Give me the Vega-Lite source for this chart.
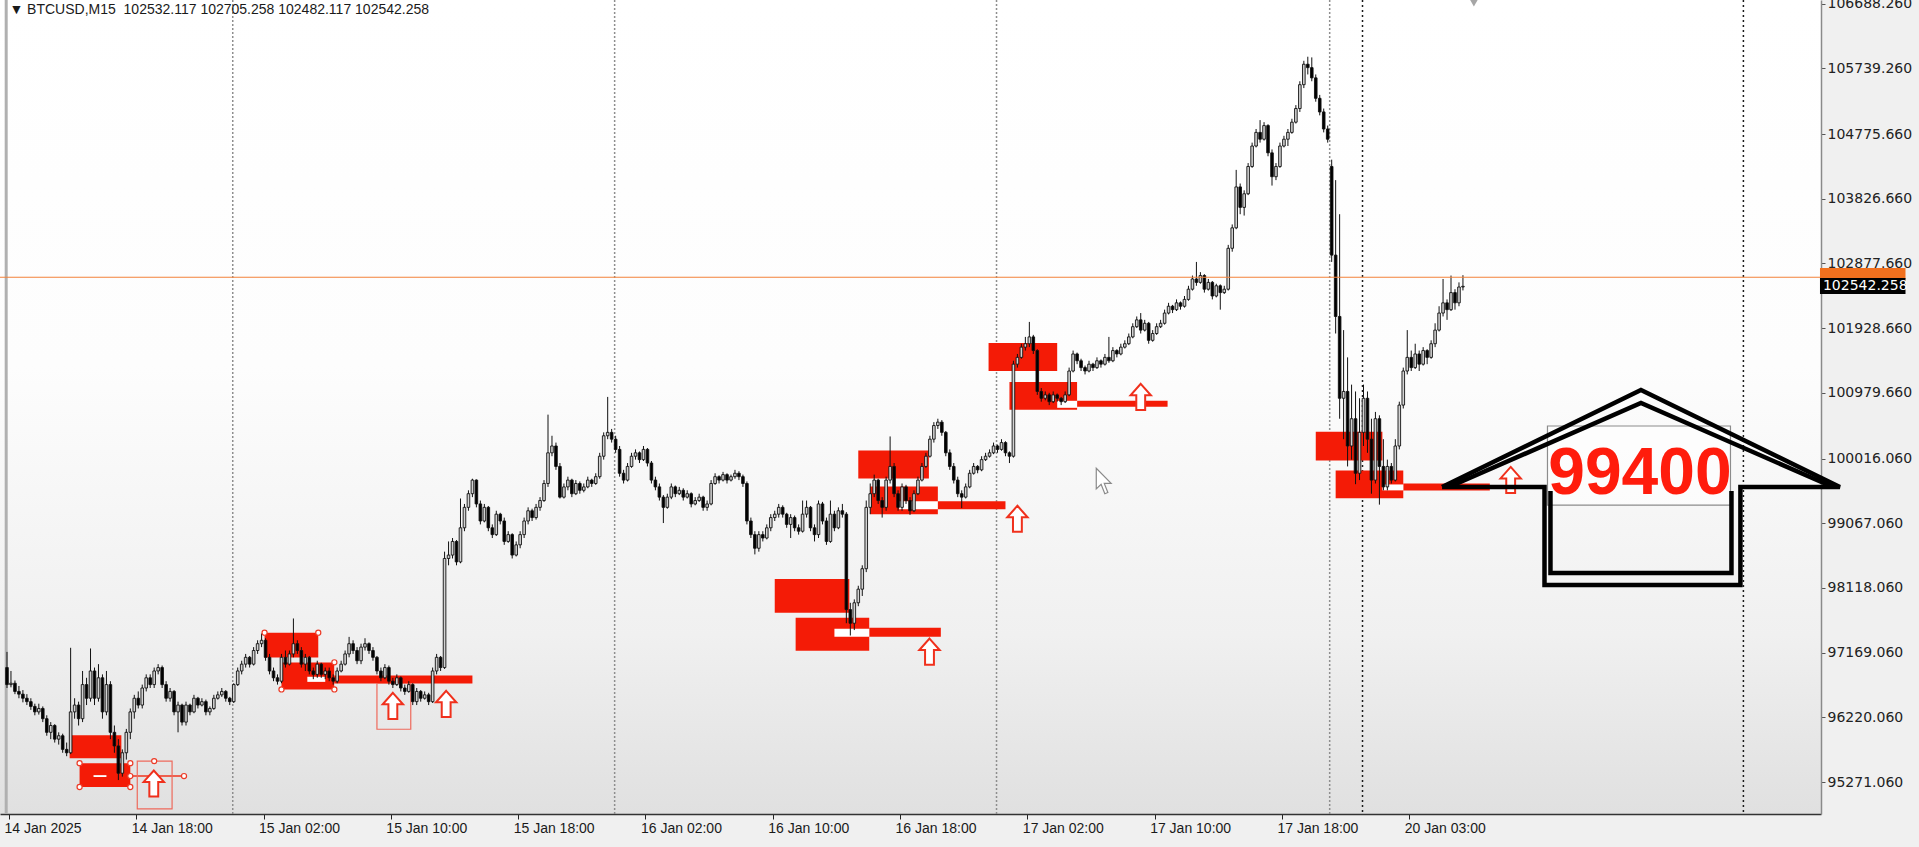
{
"$schema": "https://vega.github.io/schema/vega-lite/v6.json",
"width": 1821,
"height": 814,
"autosize": {"type": "none"},
"padding": {"left": 0, "top": 0, "right": 98, "bottom": 33},
"background": "#f0f0f0",
"config": {"view": {"stroke": null, "fill": {"gradient": "linear", "x1": 0, "y1": 0, "x2": 0, "y2": 1, "stops": [{"offset": 0, "color": "#ffffff"}, {"offset": 0.45, "color": "#fdfdfd"}, {"offset": 0.78, "color": "#f0f0f0"}, {"offset": 1, "color": "#e0e0e0"}]}}, "axis": {"grid": false, "title": null}},
"datasets": {
"candles": [
{"i":0,"o":96950,"h":97180,"l":96650,"c":96700},
{"i":1,"o":96700,"h":96900,"l":96660,"c":96720},
{"i":2,"o":96720,"h":96760,"l":96560,"c":96600},
{"i":3,"o":96600,"h":96680,"l":96500,"c":96560},
{"i":4,"o":96560,"h":96620,"l":96440,"c":96500},
{"i":5,"o":96500,"h":96560,"l":96400,"c":96450},
{"i":6,"o":96450,"h":96500,"l":96330,"c":96380},
{"i":7,"o":96380,"h":96420,"l":96250,"c":96300},
{"i":8,"o":96300,"h":96420,"l":96260,"c":96350},
{"i":9,"o":96350,"h":96380,"l":96150,"c":96200},
{"i":10,"o":96200,"h":96250,"l":95950,"c":96000},
{"i":11,"o":96000,"h":96150,"l":95900,"c":96100},
{"i":12,"o":96100,"h":96120,"l":95850,"c":95900},
{"i":13,"o":95900,"h":96000,"l":95820,"c":95950},
{"i":14,"o":95950,"h":95980,"l":95700,"c":95750},
{"i":15,"o":95750,"h":95850,"l":95650,"c":95700},
{"i":16,"o":95700,"h":97240,"l":95680,"c":96300},
{"i":17,"o":96300,"h":96500,"l":96200,"c":96400},
{"i":18,"o":96400,"h":96450,"l":96100,"c":96200},
{"i":19,"o":96200,"h":96900,"l":96150,"c":96700},
{"i":20,"o":96700,"h":96800,"l":96400,"c":96500},
{"i":21,"o":96500,"h":97230,"l":96450,"c":96900},
{"i":22,"o":96900,"h":96950,"l":96400,"c":96500},
{"i":23,"o":96500,"h":97000,"l":96450,"c":96800},
{"i":24,"o":96800,"h":96850,"l":96200,"c":96300},
{"i":25,"o":96300,"h":96900,"l":96250,"c":96700},
{"i":26,"o":96700,"h":96750,"l":95900,"c":96000},
{"i":27,"o":96000,"h":96100,"l":95700,"c":95800},
{"i":28,"o":95800,"h":95900,"l":95300,"c":95400},
{"i":29,"o":95400,"h":95750,"l":95350,"c":95700},
{"i":30,"o":95700,"h":96050,"l":95600,"c":96000},
{"i":31,"o":96000,"h":96350,"l":95900,"c":96300},
{"i":32,"o":96300,"h":96550,"l":96200,"c":96500},
{"i":33,"o":96500,"h":96600,"l":96350,"c":96400},
{"i":34,"o":96400,"h":96700,"l":96350,"c":96650},
{"i":35,"o":96650,"h":96850,"l":96600,"c":96800},
{"i":36,"o":96800,"h":96850,"l":96650,"c":96700},
{"i":37,"o":96700,"h":96950,"l":96650,"c":96900},
{"i":38,"o":96900,"h":97000,"l":96850,"c":96950},
{"i":39,"o":96950,"h":96980,"l":96650,"c":96700},
{"i":40,"o":96700,"h":96750,"l":96450,"c":96500},
{"i":41,"o":96500,"h":96650,"l":96450,"c":96600},
{"i":42,"o":96600,"h":96620,"l":96250,"c":96300},
{"i":43,"o":96300,"h":96450,"l":96000,"c":96400},
{"i":44,"o":96400,"h":96420,"l":96100,"c":96150},
{"i":45,"o":96150,"h":96450,"l":96100,"c":96400},
{"i":46,"o":96400,"h":96420,"l":96250,"c":96300},
{"i":47,"o":96300,"h":96550,"l":96280,"c":96500},
{"i":48,"o":96500,"h":96520,"l":96350,"c":96400},
{"i":49,"o":96400,"h":96500,"l":96380,"c":96450},
{"i":50,"o":96450,"h":96480,"l":96250,"c":96300},
{"i":51,"o":96300,"h":96380,"l":96250,"c":96350},
{"i":52,"o":96350,"h":96550,"l":96330,"c":96500},
{"i":53,"o":96500,"h":96600,"l":96480,"c":96550},
{"i":54,"o":96550,"h":96650,"l":96520,"c":96600},
{"i":55,"o":96600,"h":96620,"l":96450,"c":96500},
{"i":56,"o":96500,"h":96520,"l":96400,"c":96450},
{"i":57,"o":96450,"h":96720,"l":96430,"c":96700},
{"i":58,"o":96700,"h":96950,"l":96680,"c":96900},
{"i":59,"o":96900,"h":97050,"l":96850,"c":97000},
{"i":60,"o":97000,"h":97150,"l":96950,"c":97100},
{"i":61,"o":97100,"h":97120,"l":96950,"c":97000},
{"i":62,"o":97000,"h":97250,"l":96980,"c":97200},
{"i":63,"o":97200,"h":97350,"l":97150,"c":97300},
{"i":64,"o":97300,"h":97450,"l":97250,"c":97350},
{"i":65,"o":97350,"h":97380,"l":97050,"c":97100},
{"i":66,"o":97100,"h":97150,"l":96850,"c":96900},
{"i":67,"o":96900,"h":96950,"l":96750,"c":96800},
{"i":68,"o":96800,"h":96850,"l":96700,"c":96750},
{"i":69,"o":96750,"h":97150,"l":96720,"c":97100},
{"i":70,"o":97100,"h":97200,"l":96950,"c":97000},
{"i":71,"o":97000,"h":97200,"l":96980,"c":97150},
{"i":72,"o":97150,"h":97670,"l":97100,"c":97300},
{"i":73,"o":97300,"h":97350,"l":97150,"c":97200},
{"i":74,"o":97200,"h":97250,"l":96950,"c":97000},
{"i":75,"o":97000,"h":97150,"l":96900,"c":97100},
{"i":76,"o":97100,"h":97120,"l":96850,"c":96900},
{"i":77,"o":96900,"h":96950,"l":96780,"c":96850},
{"i":78,"o":96850,"h":97050,"l":96800,"c":97000},
{"i":79,"o":97000,"h":97020,"l":96800,"c":96850},
{"i":80,"o":96850,"h":96950,"l":96780,"c":96900},
{"i":81,"o":96900,"h":96950,"l":96750,"c":96800},
{"i":82,"o":96800,"h":96850,"l":96700,"c":96750},
{"i":83,"o":96750,"h":96950,"l":96720,"c":96900},
{"i":84,"o":96900,"h":97050,"l":96880,"c":97000},
{"i":85,"o":97000,"h":97200,"l":96980,"c":97150},
{"i":86,"o":97150,"h":97400,"l":97100,"c":97300},
{"i":87,"o":97300,"h":97350,"l":97150,"c":97200},
{"i":88,"o":97200,"h":97250,"l":97000,"c":97050},
{"i":89,"o":97050,"h":97300,"l":97000,"c":97250},
{"i":90,"o":97250,"h":97380,"l":97200,"c":97300},
{"i":91,"o":97300,"h":97320,"l":97150,"c":97200},
{"i":92,"o":97200,"h":97250,"l":97050,"c":97100},
{"i":93,"o":97100,"h":97120,"l":96850,"c":96900},
{"i":94,"o":96900,"h":96950,"l":96750,"c":96800},
{"i":95,"o":96800,"h":97000,"l":96780,"c":96950},
{"i":96,"o":96950,"h":96980,"l":96700,"c":96750},
{"i":97,"o":96750,"h":96800,"l":96650,"c":96700},
{"i":98,"o":96700,"h":96850,"l":96680,"c":96800},
{"i":99,"o":96800,"h":96820,"l":96600,"c":96650},
{"i":100,"o":96650,"h":96700,"l":96550,"c":96600},
{"i":101,"o":96600,"h":96750,"l":96580,"c":96700},
{"i":102,"o":96700,"h":96720,"l":96400,"c":96450},
{"i":103,"o":96450,"h":96650,"l":96400,"c":96600},
{"i":104,"o":96600,"h":96620,"l":96450,"c":96500},
{"i":105,"o":96500,"h":96600,"l":96480,"c":96550},
{"i":106,"o":96550,"h":96580,"l":96400,"c":96450},
{"i":107,"o":96450,"h":96950,"l":96430,"c":96900},
{"i":108,"o":96900,"h":97150,"l":96850,"c":97100},
{"i":109,"o":97100,"h":97120,"l":96900,"c":96950},
{"i":110,"o":96950,"h":98650,"l":96930,"c":98550},
{"i":111,"o":98550,"h":98800,"l":98450,"c":98600},
{"i":112,"o":98600,"h":98850,"l":98550,"c":98800},
{"i":113,"o":98800,"h":98820,"l":98450,"c":98500},
{"i":114,"o":98500,"h":99430,"l":98480,"c":99000},
{"i":115,"o":99000,"h":99350,"l":98950,"c":99300},
{"i":116,"o":99300,"h":99550,"l":99250,"c":99500},
{"i":117,"o":99500,"h":99720,"l":99450,"c":99700},
{"i":118,"o":99700,"h":99710,"l":99300,"c":99350},
{"i":119,"o":99350,"h":99400,"l":99050,"c":99100},
{"i":120,"o":99100,"h":99350,"l":99080,"c":99300},
{"i":121,"o":99300,"h":99320,"l":98950,"c":99000},
{"i":122,"o":99000,"h":99050,"l":98850,"c":98900},
{"i":123,"o":98900,"h":99250,"l":98880,"c":99200},
{"i":124,"o":99200,"h":99220,"l":99050,"c":99100},
{"i":125,"o":99100,"h":99150,"l":98750,"c":98800},
{"i":126,"o":98800,"h":98950,"l":98780,"c":98900},
{"i":127,"o":98900,"h":98920,"l":98550,"c":98600},
{"i":128,"o":98600,"h":98800,"l":98580,"c":98750},
{"i":129,"o":98750,"h":98950,"l":98700,"c":98900},
{"i":130,"o":98900,"h":99150,"l":98850,"c":99100},
{"i":131,"o":99100,"h":99300,"l":99050,"c":99250},
{"i":132,"o":99250,"h":99280,"l":99100,"c":99150},
{"i":133,"o":99150,"h":99350,"l":99120,"c":99300},
{"i":134,"o":99300,"h":99450,"l":99250,"c":99400},
{"i":135,"o":99400,"h":99700,"l":99380,"c":99650},
{"i":136,"o":99650,"h":100660,"l":99600,"c":100100},
{"i":137,"o":100100,"h":100350,"l":100050,"c":100200},
{"i":138,"o":100200,"h":100250,"l":99850,"c":99900},
{"i":139,"o":99900,"h":99950,"l":99430,"c":99450},
{"i":140,"o":99450,"h":99650,"l":99430,"c":99600},
{"i":141,"o":99600,"h":99750,"l":99550,"c":99700},
{"i":142,"o":99700,"h":99720,"l":99450,"c":99500},
{"i":143,"o":99500,"h":99700,"l":99480,"c":99650},
{"i":144,"o":99650,"h":99680,"l":99500,"c":99550},
{"i":145,"o":99550,"h":99650,"l":99520,"c":99600},
{"i":146,"o":99600,"h":99750,"l":99580,"c":99700},
{"i":147,"o":99700,"h":99720,"l":99600,"c":99650},
{"i":148,"o":99650,"h":99800,"l":99630,"c":99750},
{"i":149,"o":99750,"h":100100,"l":99720,"c":100050},
{"i":150,"o":100050,"h":100400,"l":100000,"c":100350},
{"i":151,"o":100350,"h":100920,"l":100300,"c":100400},
{"i":152,"o":100400,"h":100450,"l":100250,"c":100300},
{"i":153,"o":100300,"h":100350,"l":100100,"c":100150},
{"i":154,"o":100150,"h":100200,"l":99750,"c":99800},
{"i":155,"o":99800,"h":99850,"l":99650,"c":99700},
{"i":156,"o":99700,"h":99950,"l":99680,"c":99900},
{"i":157,"o":99900,"h":100100,"l":99880,"c":100050},
{"i":158,"o":100050,"h":100150,"l":100000,"c":100100},
{"i":159,"o":100100,"h":100120,"l":99950,"c":100000},
{"i":160,"o":100000,"h":100200,"l":99980,"c":100150},
{"i":161,"o":100150,"h":100170,"l":99900,"c":99950},
{"i":162,"o":99950,"h":99980,"l":99650,"c":99700},
{"i":163,"o":99700,"h":99750,"l":99550,"c":99600},
{"i":164,"o":99600,"h":99650,"l":99400,"c":99450},
{"i":165,"o":99450,"h":99480,"l":99070,"c":99300},
{"i":166,"o":99300,"h":99500,"l":99280,"c":99450},
{"i":167,"o":99450,"h":99650,"l":99420,"c":99600},
{"i":168,"o":99600,"h":99620,"l":99450,"c":99500},
{"i":169,"o":99500,"h":99600,"l":99480,"c":99550},
{"i":170,"o":99550,"h":99580,"l":99400,"c":99450},
{"i":171,"o":99450,"h":99550,"l":99430,"c":99500},
{"i":172,"o":99500,"h":99520,"l":99300,"c":99350},
{"i":173,"o":99350,"h":99450,"l":99330,"c":99400},
{"i":174,"o":99400,"h":99500,"l":99380,"c":99450},
{"i":175,"o":99450,"h":99470,"l":99250,"c":99300},
{"i":176,"o":99300,"h":99400,"l":99250,"c":99350},
{"i":177,"o":99350,"h":99700,"l":99330,"c":99650},
{"i":178,"o":99650,"h":99800,"l":99630,"c":99750},
{"i":179,"o":99750,"h":99770,"l":99650,"c":99700},
{"i":180,"o":99700,"h":99820,"l":99680,"c":99780},
{"i":181,"o":99780,"h":99800,"l":99650,"c":99700},
{"i":182,"o":99700,"h":99780,"l":99680,"c":99750},
{"i":183,"o":99750,"h":99850,"l":99720,"c":99800},
{"i":184,"o":99800,"h":99830,"l":99700,"c":99750},
{"i":185,"o":99750,"h":99780,"l":99600,"c":99650},
{"i":186,"o":99650,"h":99680,"l":99050,"c":99100},
{"i":187,"o":99100,"h":99150,"l":98850,"c":98900},
{"i":188,"o":98900,"h":98950,"l":98610,"c":98700},
{"i":189,"o":98700,"h":98950,"l":98650,"c":98900},
{"i":190,"o":98900,"h":98950,"l":98800,"c":98850},
{"i":191,"o":98850,"h":99050,"l":98830,"c":99000},
{"i":192,"o":99000,"h":99200,"l":98950,"c":99150},
{"i":193,"o":99150,"h":99250,"l":99100,"c":99200},
{"i":194,"o":99200,"h":99350,"l":99150,"c":99300},
{"i":195,"o":99300,"h":99330,"l":99150,"c":99200},
{"i":196,"o":99200,"h":99220,"l":99000,"c":99050},
{"i":197,"o":99050,"h":99200,"l":98850,"c":99150},
{"i":198,"o":99150,"h":99180,"l":98950,"c":99000},
{"i":199,"o":99000,"h":99050,"l":98900,"c":98950},
{"i":200,"o":98950,"h":99400,"l":98930,"c":99200},
{"i":201,"o":99200,"h":99400,"l":99150,"c":99300},
{"i":202,"o":99300,"h":99320,"l":98950,"c":99000},
{"i":203,"o":99000,"h":99050,"l":98800,"c":98900},
{"i":204,"o":98900,"h":99400,"l":98850,"c":99350},
{"i":205,"o":99350,"h":99380,"l":99050,"c":99100},
{"i":206,"o":99100,"h":99150,"l":98750,"c":98800},
{"i":207,"o":98800,"h":99400,"l":98780,"c":99200},
{"i":208,"o":99200,"h":99250,"l":98950,"c":99000},
{"i":209,"o":99000,"h":99300,"l":98980,"c":99250},
{"i":210,"o":99250,"h":99350,"l":99150,"c":99200},
{"i":211,"o":99200,"h":99230,"l":97600,"c":97800},
{"i":212,"o":97800,"h":97900,"l":97420,"c":97600},
{"i":213,"o":97600,"h":97950,"l":97500,"c":97900},
{"i":214,"o":97900,"h":98150,"l":97850,"c":98100},
{"i":215,"o":98100,"h":98450,"l":98000,"c":98400},
{"i":216,"o":98400,"h":99400,"l":98350,"c":99300},
{"i":217,"o":99300,"h":99650,"l":99200,"c":99500},
{"i":218,"o":99500,"h":99780,"l":99450,"c":99700},
{"i":219,"o":99700,"h":99720,"l":99350,"c":99400},
{"i":220,"o":99400,"h":99450,"l":99150,"c":99300},
{"i":221,"o":99300,"h":99750,"l":99250,"c":99700},
{"i":222,"o":99700,"h":100340,"l":99650,"c":99900},
{"i":223,"o":99900,"h":99950,"l":99450,"c":99500},
{"i":224,"o":99500,"h":99550,"l":99250,"c":99300},
{"i":225,"o":99300,"h":99650,"l":99250,"c":99600},
{"i":226,"o":99600,"h":99630,"l":99350,"c":99400},
{"i":227,"o":99400,"h":99450,"l":99190,"c":99250},
{"i":228,"o":99250,"h":99550,"l":99230,"c":99500},
{"i":229,"o":99500,"h":99750,"l":99480,"c":99700},
{"i":230,"o":99700,"h":99950,"l":99680,"c":99900},
{"i":231,"o":99900,"h":100100,"l":99880,"c":100050},
{"i":232,"o":100050,"h":100350,"l":100030,"c":100300},
{"i":233,"o":100300,"h":100550,"l":100250,"c":100500},
{"i":234,"o":100500,"h":100600,"l":100450,"c":100550},
{"i":235,"o":100550,"h":100580,"l":100350,"c":100400},
{"i":236,"o":100400,"h":100420,"l":100050,"c":100100},
{"i":237,"o":100100,"h":100150,"l":99850,"c":99900},
{"i":238,"o":99900,"h":99950,"l":99650,"c":99700},
{"i":239,"o":99700,"h":99750,"l":99450,"c":99500},
{"i":240,"o":99500,"h":99550,"l":99290,"c":99450},
{"i":241,"o":99450,"h":99650,"l":99430,"c":99600},
{"i":242,"o":99600,"h":99850,"l":99580,"c":99800},
{"i":243,"o":99800,"h":99950,"l":99780,"c":99900},
{"i":244,"o":99900,"h":99920,"l":99800,"c":99850},
{"i":245,"o":99850,"h":100050,"l":99830,"c":100000},
{"i":246,"o":100000,"h":100100,"l":99980,"c":100050},
{"i":247,"o":100050,"h":100150,"l":100030,"c":100100},
{"i":248,"o":100100,"h":100250,"l":100080,"c":100200},
{"i":249,"o":100200,"h":100220,"l":100100,"c":100150},
{"i":250,"o":100150,"h":100300,"l":100130,"c":100250},
{"i":251,"o":100250,"h":100270,"l":100050,"c":100100},
{"i":252,"o":100100,"h":100120,"l":99950,"c":100050},
{"i":253,"o":100050,"h":101450,"l":100030,"c":101400},
{"i":254,"o":101400,"h":101550,"l":101350,"c":101500},
{"i":255,"o":101500,"h":101700,"l":101480,"c":101650},
{"i":256,"o":101650,"h":101800,"l":101600,"c":101700},
{"i":257,"o":101700,"h":102020,"l":101650,"c":101800},
{"i":258,"o":101800,"h":101830,"l":101550,"c":101600},
{"i":259,"o":101600,"h":101620,"l":100950,"c":101000},
{"i":260,"o":101000,"h":101050,"l":100850,"c":100900},
{"i":261,"o":100900,"h":101000,"l":100870,"c":100950},
{"i":262,"o":100950,"h":100980,"l":100800,"c":100850},
{"i":263,"o":100850,"h":101000,"l":100830,"c":100950},
{"i":264,"o":100950,"h":100970,"l":100850,"c":100900},
{"i":265,"o":100900,"h":100920,"l":100800,"c":100850},
{"i":266,"o":100850,"h":101000,"l":100830,"c":100950},
{"i":267,"o":100950,"h":101350,"l":100930,"c":101300},
{"i":268,"o":101300,"h":101600,"l":101280,"c":101550},
{"i":269,"o":101550,"h":101570,"l":101400,"c":101450},
{"i":270,"o":101450,"h":101480,"l":101300,"c":101350},
{"i":271,"o":101350,"h":101380,"l":101250,"c":101300},
{"i":272,"o":101300,"h":101450,"l":101280,"c":101400},
{"i":273,"o":101400,"h":101420,"l":101300,"c":101350},
{"i":274,"o":101350,"h":101500,"l":101330,"c":101450},
{"i":275,"o":101450,"h":101470,"l":101350,"c":101400},
{"i":276,"o":101400,"h":101550,"l":101380,"c":101500},
{"i":277,"o":101500,"h":101800,"l":101420,"c":101450},
{"i":278,"o":101450,"h":101650,"l":101430,"c":101600},
{"i":279,"o":101600,"h":101620,"l":101500,"c":101550},
{"i":280,"o":101550,"h":101700,"l":101530,"c":101650},
{"i":281,"o":101650,"h":101750,"l":101630,"c":101700},
{"i":282,"o":101700,"h":101850,"l":101680,"c":101800},
{"i":283,"o":101800,"h":102000,"l":101780,"c":101950},
{"i":284,"o":101950,"h":102100,"l":101930,"c":102050},
{"i":285,"o":102050,"h":102150,"l":101850,"c":101900},
{"i":286,"o":101900,"h":102050,"l":101880,"c":102000},
{"i":287,"o":102000,"h":102020,"l":101700,"c":101750},
{"i":288,"o":101750,"h":101900,"l":101730,"c":101850},
{"i":289,"o":101850,"h":102000,"l":101830,"c":101950},
{"i":290,"o":101950,"h":102050,"l":101930,"c":102000},
{"i":291,"o":102000,"h":102200,"l":101980,"c":102150},
{"i":292,"o":102150,"h":102300,"l":102130,"c":102250},
{"i":293,"o":102250,"h":102270,"l":102150,"c":102200},
{"i":294,"o":102200,"h":102350,"l":102180,"c":102300},
{"i":295,"o":102300,"h":102320,"l":102200,"c":102250},
{"i":296,"o":102250,"h":102400,"l":102230,"c":102350},
{"i":297,"o":102350,"h":102550,"l":102330,"c":102500},
{"i":298,"o":102500,"h":102700,"l":102480,"c":102650},
{"i":299,"o":102650,"h":102900,"l":102550,"c":102600},
{"i":300,"o":102600,"h":102750,"l":102580,"c":102700},
{"i":301,"o":102700,"h":102720,"l":102450,"c":102500},
{"i":302,"o":102500,"h":102650,"l":102480,"c":102600},
{"i":303,"o":102600,"h":102620,"l":102350,"c":102400},
{"i":304,"o":102400,"h":102580,"l":102380,"c":102550},
{"i":305,"o":102550,"h":102570,"l":102200,"c":102450},
{"i":306,"o":102450,"h":102550,"l":102430,"c":102500},
{"i":307,"o":102500,"h":103150,"l":102480,"c":103100},
{"i":308,"o":103100,"h":103450,"l":103050,"c":103400},
{"i":309,"o":103400,"h":104250,"l":103380,"c":104000},
{"i":310,"o":104000,"h":104050,"l":103600,"c":103700},
{"i":311,"o":103700,"h":103950,"l":103580,"c":103900},
{"i":312,"o":103900,"h":104350,"l":103880,"c":104300},
{"i":313,"o":104300,"h":104650,"l":104280,"c":104600},
{"i":314,"o":104600,"h":104850,"l":104580,"c":104800},
{"i":315,"o":104800,"h":104980,"l":104650,"c":104700},
{"i":316,"o":104700,"h":104950,"l":104680,"c":104900},
{"i":317,"o":104900,"h":104920,"l":104450,"c":104500},
{"i":318,"o":104500,"h":104550,"l":104020,"c":104150},
{"i":319,"o":104150,"h":104350,"l":104100,"c":104300},
{"i":320,"o":104300,"h":104650,"l":104280,"c":104600},
{"i":321,"o":104600,"h":104750,"l":104580,"c":104700},
{"i":322,"o":104700,"h":104850,"l":104600,"c":104800},
{"i":323,"o":104800,"h":105000,"l":104780,"c":104950},
{"i":324,"o":104950,"h":105200,"l":104930,"c":105150},
{"i":325,"o":105150,"h":105550,"l":105100,"c":105500},
{"i":326,"o":105500,"h":105850,"l":105450,"c":105800},
{"i":327,"o":105800,"h":105910,"l":105650,"c":105750},
{"i":328,"o":105750,"h":105900,"l":105550,"c":105600},
{"i":329,"o":105600,"h":105650,"l":105250,"c":105300},
{"i":330,"o":105300,"h":105350,"l":105050,"c":105100},
{"i":331,"o":105100,"h":105150,"l":104800,"c":104850},
{"i":332,"o":104850,"h":104900,"l":104650,"c":104700},
{"i":333,"o":104300,"h":104400,"l":102900,"c":103000},
{"i":334,"o":103000,"h":104100,"l":101850,"c":102100},
{"i":335,"o":102100,"h":103600,"l":100600,"c":100900},
{"i":336,"o":100900,"h":101900,"l":100300,"c":101000},
{"i":337,"o":101000,"h":101500,"l":99900,"c":100200},
{"i":338,"o":100200,"h":101100,"l":100000,"c":100600},
{"i":339,"o":100600,"h":101000,"l":99640,"c":99800},
{"i":340,"o":99800,"h":100900,"l":99700,"c":100400},
{"i":341,"o":100400,"h":101100,"l":100200,"c":100900},
{"i":342,"o":100900,"h":101000,"l":100100,"c":100300},
{"i":343,"o":100300,"h":100600,"l":99500,"c":99700},
{"i":344,"o":99700,"h":100700,"l":99650,"c":100600},
{"i":345,"o":100600,"h":100650,"l":99340,"c":99900},
{"i":346,"o":99900,"h":100300,"l":99550,"c":99600},
{"i":347,"o":99600,"h":100000,"l":99550,"c":99900},
{"i":348,"o":99900,"h":99950,"l":99650,"c":99700},
{"i":349,"o":99700,"h":100300,"l":99680,"c":100200},
{"i":350,"o":100200,"h":100850,"l":100150,"c":100800},
{"i":351,"o":100800,"h":101350,"l":100750,"c":101300},
{"i":352,"o":101300,"h":101900,"l":101250,"c":101500},
{"i":353,"o":101500,"h":101600,"l":101300,"c":101350},
{"i":354,"o":101350,"h":101700,"l":101330,"c":101550},
{"i":355,"o":101550,"h":101600,"l":101300,"c":101400},
{"i":356,"o":101400,"h":101650,"l":101380,"c":101600},
{"i":357,"o":101600,"h":101620,"l":101400,"c":101500},
{"i":358,"o":101500,"h":101750,"l":101480,"c":101700},
{"i":359,"o":101700,"h":102000,"l":101650,"c":101900},
{"i":360,"o":101900,"h":102250,"l":101880,"c":102150},
{"i":361,"o":102150,"h":102650,"l":102100,"c":102300},
{"i":362,"o":102300,"h":102350,"l":102050,"c":102200},
{"i":363,"o":102200,"h":102700,"l":102180,"c":102450},
{"i":364,"o":102450,"h":102500,"l":102200,"c":102300},
{"i":365,"o":102300,"h":102600,"l":102250,"c":102532},
{"i":366,"o":102532.117,"h":102705.258,"l":102482.117,"c":102542.258}
]
},
"layer": [
{
"data": {"name": "candles"},
"mark": {"type": "bar", "size": 3, "orient": "vertical", "opacity": 0},
"encoding": {
"x": {"field": "i", "type": "quantitative", "scale": {"domain": [-0.5, 454.75], "nice": false, "zero": false},
"axis": {"orient": "bottom", "values": [0.5, 32.5, 64.5, 96.5, 128.5, 160.5, 192.5, 224.5, 256.5, 288.5, 320.5, 352.5],
"labelExpr": "['14 Jan 2025','14 Jan 18:00','15 Jan 02:00','15 Jan 10:00','15 Jan 18:00','16 Jan 02:00','16 Jan 10:00','16 Jan 18:00','17 Jan 02:00','17 Jan 10:00','17 Jan 18:00','20 Jan 03:00'][round((datum.value-0.5)/32)]",
"labelAlign": "left", "labelBaseline": "top", "labelPadding": 2, "labelOffset": -5, "labelFont": "Liberation Sans", "labelFontSize": 14, "labelColor": "#1a1a1a",
"tickSize": 5, "tickColor": "#222222", "domainColor": "#333333", "domainWidth": 1.5, "title": null, "labelOverlap": false, "labelFlush": false, "labelBound": false}},
"y": {"field": "o", "type": "quantitative", "scale": {"domain": [94802, 106742], "nice": false, "zero": false},
"axis": {"orient": "right", "values": [95271.06, 96220.06, 97169.06, 98118.06, 99067.06, 100016.06, 100979.66, 101928.66, 102877.66, 103826.66, 104775.66, 105739.26, 106688.26],
"format": ".3f", "labelFont": "DejaVu Sans", "labelFontSize": 14, "labelColor": "#222222", "labelPadding": 2, "tickSize": 4, "tickColor": "#555555", "domainColor": "#8a8a8a", "domainWidth": 1.5, "title": null, "labelOverlap": false, "labelFlush": false, "labelBound": false}},
"y2": {"field": "c"}
}
},
{
"data": {"values": [{"i": -0.2}]},
"mark": {"type": "rule", "color": "#b0b0b0", "strokeWidth": 3},
"encoding": {"x": {"field": "i", "type": "quantitative"}}
},
{
"data": {"values": [{"i": 56.75}, {"i": 152.75}, {"i": 248.75}, {"i": 332.5}]},
"mark": {"type": "rule", "color": "#8e8e8e", "strokeWidth": 1.5, "strokeDash": [2, 2]},
"encoding": {"x": {"field": "i", "type": "quantitative"}}
},
{
"data": {"values": [{"i": 340.75}, {"i": 436.5}]},
"mark": {"type": "rule", "color": "#1a1a1a", "strokeWidth": 1.5, "strokeDash": [2, 3]},
"encoding": {"x": {"field": "i", "type": "quantitative"}}
},
{
"data": {"values": [
{"a": 15.75, "b": 28.75, "lo": 95621, "hi": 95957},
{"a": 18.25, "b": 31, "lo": 95198, "hi": 95548},
{"a": 64.75, "b": 78.25, "lo": 97096, "hi": 97461},
{"a": 69, "b": 82.25, "lo": 96629, "hi": 97023},
{"a": 82.25, "b": 117, "lo": 96716, "hi": 96833},
{"a": 193, "b": 211.75, "lo": 97753, "hi": 98249},
{"a": 198.25, "b": 216.75, "lo": 97198, "hi": 97680},
{"a": 216.75, "b": 234.75, "lo": 97403, "hi": 97534},
{"a": 214, "b": 231.75, "lo": 99724, "hi": 100133},
{"a": 217, "b": 234, "lo": 99198, "hi": 99607},
{"a": 234, "b": 251, "lo": 99271, "hi": 99388},
{"a": 246.75, "b": 264, "lo": 101300, "hi": 101710},
{"a": 252, "b": 269, "lo": 100731, "hi": 101140},
{"a": 269, "b": 291.75, "lo": 100775, "hi": 100863},
{"a": 329, "b": 345.75, "lo": 99987, "hi": 100410},
{"a": 334, "b": 351, "lo": 99432, "hi": 99841},
{"a": 351, "b": 372.75, "lo": 99549, "hi": 99651}
]},
"mark": {"type": "rect", "color": "#f41b06"},
"encoding": {
"x": {"field": "a", "type": "quantitative"}, "x2": {"field": "b"},
"y": {"field": "lo", "type": "quantitative"}, "y2": {"field": "hi"}
}
},
{
"data": {"values": [
{"a": 21.75, "b": 25, "lo": 95345, "hi": 95372},
{"a": 75.5, "b": 80, "lo": 96740, "hi": 96815},
{"a": 208, "b": 216.75, "lo": 97403, "hi": 97519},
{"a": 224.25, "b": 234, "lo": 99271, "hi": 99388},
{"a": 264, "b": 269, "lo": 100760, "hi": 100863},
{"a": 345.75, "b": 351, "lo": 99549, "hi": 99636}
]},
"mark": {"type": "rect", "color": "#ffffff"},
"encoding": {
"x": {"field": "a", "type": "quantitative"}, "x2": {"field": "b"},
"y": {"field": "lo", "type": "quantitative"}, "y2": {"field": "hi"}
}
},
{
"data": {"values": [{"a": 31, "b": 44.5, "p": 95359}]},
"mark": {"type": "rule", "color": "#f0341e", "strokeWidth": 1.5},
"encoding": {
"x": {"field": "a", "type": "quantitative"}, "x2": {"field": "b"},
"y": {"field": "p", "type": "quantitative"}
}
},
{
"data": {"values": [
{"a": 32.75, "b": 41.5, "lo": 94877, "hi": 95578},
{"a": 93, "b": 101.5, "lo": 96045, "hi": 96716}
]},
"mark": {"type": "rect", "fill": null, "fillOpacity": 0, "stroke": "#ee6a5c", "strokeWidth": 1.2},
"encoding": {
"x": {"field": "a", "type": "quantitative"}, "x2": {"field": "b"},
"y": {"field": "lo", "type": "quantitative"}, "y2": {"field": "hi"}
}
},
{
"data": {"name": "candles"},
"mark": {"type": "rule", "strokeWidth": 1, "color": "#111111"},
"encoding": {
"x": {"field": "i", "type": "quantitative"},
"y": {"field": "l", "type": "quantitative"},
"y2": {"field": "h"}
}
},
{
"data": {"name": "candles"},
"mark": {"type": "bar", "size": 2.6, "orient": "vertical", "stroke": "#111111", "strokeWidth": 0.9},
"encoding": {
"x": {"field": "i", "type": "quantitative"},
"y": {"field": "o", "type": "quantitative"},
"y2": {"field": "c"},
"color": {"condition": {"test": "datum.c < datum.o", "value": "#000000"}, "value": "#d2d2d2"}
}
},
{
"data": {"values": [{"p": 102675}]},
"mark": {"type": "rule", "color": "#f3823a", "strokeWidth": 1.2},
"encoding": {"y": {"field": "p", "type": "quantitative"}}
},
{
"data": {"values": [
{"a": 18.25, "p": 95548}, {"a": 31, "p": 95548}, {"a": 18.25, "p": 95198}, {"a": 31, "p": 95198},
{"a": 64.75, "p": 97461}, {"a": 78.25, "p": 97461},
{"a": 69, "p": 96629}, {"a": 82.3, "p": 97027}, {"a": 82.3, "p": 96629},
{"a": 31, "p": 95359}, {"a": 44.5, "p": 95359}, {"a": 37, "p": 95578}
]},
"mark": {"type": "point", "shape": "circle", "size": 26, "fill": "#ffffff", "fillOpacity": 1, "opacity": 1, "stroke": "#ec3a26", "strokeWidth": 1.2},
"encoding": {
"x": {"field": "a", "type": "quantitative"},
"y": {"field": "p", "type": "quantitative"}
}
},
{
"data": {"values": [
{"a": 36.9, "p": 95249}, {"a": 97, "p": 96388}, {"a": 110.4, "p": 96417},
{"a": 231.9, "p": 97184}, {"a": 254, "p": 99132}, {"a": 285, "p": 100921}, {"a": 378, "p": 99702}
]},
"mark": {"type": "point", "shape": "M0,-1L0.78,-0.12L0.34,-0.12L0.34,1L-0.34,1L-0.34,-0.12L-0.78,-0.12Z", "size": 680, "fill": "#ffffff", "fillOpacity": 1, "opacity": 1, "stroke": "#f0301c", "strokeWidth": 2},
"encoding": {
"x": {"field": "a", "type": "quantitative"},
"y": {"field": "p", "type": "quantitative"}
}
},
{
"data": {"values": [{"a": 276.25, "p": 99672}]},
"mark": {"type": "point", "shape": "M-0.7,-1L-0.7,0.5L-0.35,0.17L-0.08,0.85L0.14,0.76L-0.12,0.1L0.38,0.1Z", "size": 760, "fill": "#ffffff", "fillOpacity": 1, "opacity": 1, "stroke": "#8a8a8a", "strokeWidth": 1.2},
"encoding": {
"x": {"field": "a", "type": "quantitative"},
"y": {"field": "p", "type": "quantitative"}
}
},
{
"data": {"values": [{"a": 387.25, "b": 433.25, "lo": 99334, "hi": 100493}]},
"mark": {"type": "rect", "fill": "#ffffff", "fillOpacity": 0.6, "stroke": "#8c8c8c", "strokeWidth": 1.2},
"encoding": {
"x": {"field": "a", "type": "quantitative"}, "x2": {"field": "b"},
"y": {"field": "lo", "type": "quantitative"}, "y2": {"field": "hi"}
}
},
{
"data": {"values": [{"a": 410.5, "p": 99496, "t": "99400"}]},
"mark": {"type": "text", "align": "center", "baseline": "alphabetic", "font": "Liberation Sans", "fontWeight": "bold", "fontSize": 66, "color": "#ff1c0c"},
"encoding": {
"x": {"field": "a", "type": "quantitative"},
"y": {"field": "p", "type": "quantitative"},
"text": {"field": "t"}
}
},
{
"data": {"values": [
{"g": 1, "o": 1, "a": 360.75, "p": 99598}, {"g": 1, "o": 2, "a": 410.75, "p": 101021}, {"g": 1, "o": 3, "a": 460.75, "p": 99598},
{"g": 1, "o": 4, "a": 435.75, "p": 99598}, {"g": 1, "o": 5, "a": 435.75, "p": 98161}, {"g": 1, "o": 6, "a": 386.5, "p": 98161},
{"g": 1, "o": 7, "a": 386.5, "p": 99598}, {"g": 1, "o": 8, "a": 360.75, "p": 99598},
{"g": 2, "o": 1, "a": 362.5, "p": 99598}, {"g": 2, "o": 2, "a": 410.75, "p": 100831}, {"g": 2, "o": 3, "a": 459, "p": 99598},
{"g": 3, "o": 1, "a": 388, "p": 99540}, {"g": 3, "o": 2, "a": 388, "p": 98337}, {"g": 3, "o": 3, "a": 433.5, "p": 98337}, {"g": 3, "o": 4, "a": 433.5, "p": 99540}
]},
"mark": {"type": "line", "color": "#000000", "strokeWidth": 4.5, "strokeJoin": "miter", "clip": false},
"encoding": {
"x": {"field": "a", "type": "quantitative"},
"y": {"field": "p", "type": "quantitative"},
"detail": {"field": "g"},
"order": {"field": "o"}
}
},
{
"data": {"values": [{"a": 0.6, "p": 106595, "t": "▼ BTCUSD,M15\u00a0\u00a0102532.117 102705.258 102482.117 102542.258"}]},
"mark": {"type": "text", "align": "left", "baseline": "middle", "font": "Liberation Sans", "fontSize": 14, "color": "#1a1a1a"},
"encoding": {
"x": {"field": "a", "type": "quantitative"},
"y": {"field": "p", "type": "quantitative"},
"text": {"field": "t"}
}
},
{
"data": {"values": [{"a": 368.75, "p": 106700}]},
"mark": {"type": "point", "shape": "triangle-down", "size": 70, "filled": true, "color": "#a6a6a6", "opacity": 1},
"encoding": {
"x": {"field": "a", "type": "quantitative"},
"y": {"field": "p", "type": "quantitative"}
}
},
{
"data": {"values": [{"a": 455.75, "b": 477.25, "lo": 102650, "hi": 102811}]},
"mark": {"type": "rect", "color": "#f2701e", "clip": false},
"encoding": {
"x": {"field": "a", "type": "quantitative"}, "x2": {"field": "b"},
"y": {"field": "lo", "type": "quantitative"}, "y2": {"field": "hi"}
}
},
{
"data": {"values": [{"a": 455.75, "b": 477.25, "lo": 102430, "hi": 102664}]},
"mark": {"type": "rect", "color": "#000000", "clip": false},
"encoding": {
"x": {"field": "a", "type": "quantitative"}, "x2": {"field": "b"},
"y": {"field": "lo", "type": "quantitative"}, "y2": {"field": "hi"}
}
},
{
"data": {"values": [{"a": 456.5, "p": 102547, "t": "102542.258"}]},
"mark": {"type": "text", "align": "left", "baseline": "middle", "font": "DejaVu Sans", "fontSize": 14, "color": "#ffffff"},
"encoding": {
"x": {"field": "a", "type": "quantitative"},
"y": {"field": "p", "type": "quantitative"},
"text": {"field": "t"}
}
}
]
}
